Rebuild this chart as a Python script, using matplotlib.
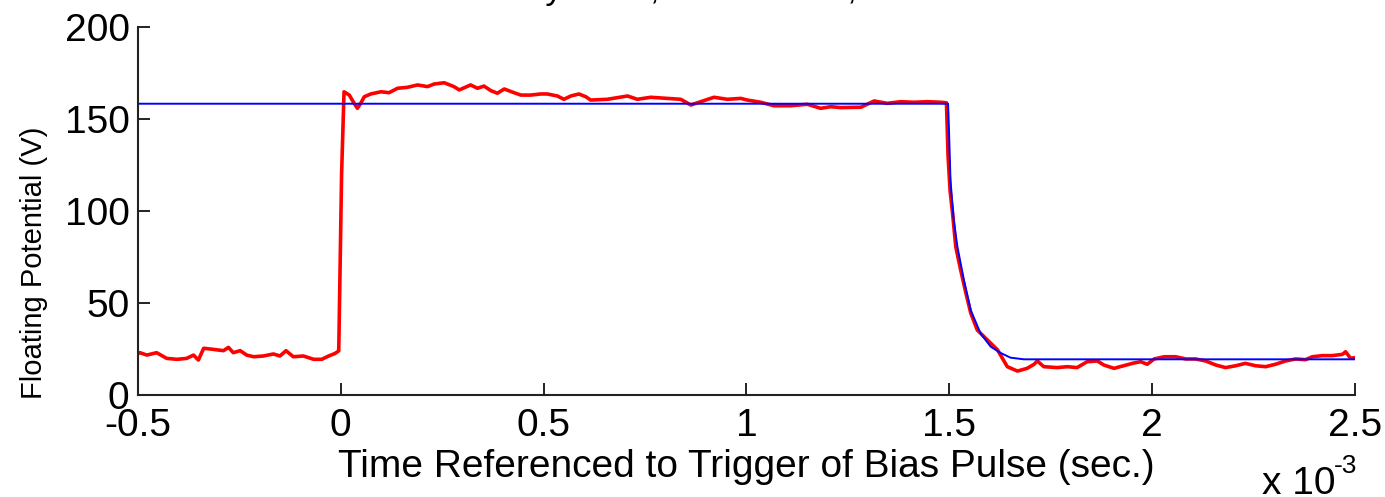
import numpy as np
import matplotlib
matplotlib.use("Agg")
from matplotlib import pyplot as plt

plt.rcParams['font.family'] = ['Liberation Sans', 'DejaVu Sans']
plt.rcParams['axes.unicode_minus'] = False

# measured floating potential (time in units of 1e-3 s)
t_red = [-0.500, -0.495, -0.478, -0.454, -0.429, -0.404, -0.380, -0.363, -0.351, -0.338,
         -0.314, -0.289, -0.277, -0.265, -0.248, -0.232, -0.215, -0.191, -0.166, -0.150,
         -0.135, -0.117, -0.092, -0.067, -0.047, -0.030, -0.014, -0.005, 0.002, 0.008,
         0.021, 0.033, 0.041, 0.049, 0.058, 0.074, 0.099, 0.119, 0.140, 0.164,
         0.189, 0.214, 0.230, 0.255, 0.279, 0.292, 0.320, 0.337, 0.353, 0.370,
         0.386, 0.403, 0.427, 0.444, 0.468, 0.493, 0.509, 0.534, 0.550, 0.567,
         0.587, 0.604, 0.616, 0.657, 0.707, 0.731, 0.764, 0.805, 0.838, 0.863,
         0.887, 0.920, 0.953, 0.986, 1.002, 1.035, 1.068, 1.109, 1.150, 1.183,
         1.208, 1.232, 1.282, 1.315, 1.347, 1.380, 1.413, 1.446, 1.479, 1.493,
         1.497, 1.502, 1.508, 1.516, 1.528, 1.541, 1.553, 1.569, 1.594, 1.619,
         1.643, 1.668, 1.692, 1.709, 1.717, 1.733, 1.766, 1.791, 1.815, 1.840,
         1.865, 1.881, 1.906, 1.930, 1.955, 1.972, 1.988, 2.005, 2.030, 2.058,
         2.083, 2.107, 2.132, 2.157, 2.181, 2.206, 2.230, 2.255, 2.280, 2.304,
         2.329, 2.354, 2.378, 2.395, 2.420, 2.444, 2.469, 2.477, 2.489, 2.500]
v_red = [22.5, 23.0, 21.7, 23.0, 19.9, 19.4, 19.9, 21.7, 19.0, 25.4,
         24.8, 24.1, 25.9, 23.0, 24.1, 21.7, 20.8, 21.2, 22.3, 21.2,
         24.1, 20.8, 21.2, 19.4, 19.4, 21.2, 22.6, 24.0, 120.0, 164.8,
         163.0, 158.5, 155.8, 158.5, 162.1, 163.6, 164.8, 164.3, 166.7, 167.2,
         168.5, 167.6, 169.0, 169.7, 167.6, 165.8, 168.5, 166.7, 167.9, 165.4,
         164.0, 166.3, 164.3, 163.0, 163.0, 163.6, 163.6, 162.5, 160.7, 162.5,
         163.6, 162.1, 160.3, 160.7, 162.5, 160.7, 161.8, 161.2, 160.7, 157.6,
         159.4, 161.8, 160.7, 161.2, 160.3, 159.1, 157.2, 157.2, 158.0, 155.8,
         156.7, 156.2, 156.4, 159.8, 158.5, 159.4, 159.1, 159.4, 159.1, 158.8,
         130.0, 111.0, 99.0, 80.6, 68.0, 55.4, 44.5, 35.3, 29.9, 24.5,
         15.4, 13.0, 14.5, 16.7, 18.5, 15.4, 14.9, 15.4, 14.9, 18.1,
         18.5, 16.3, 14.5, 15.9, 17.4, 18.1, 16.7, 19.6, 20.8, 20.8,
         19.6, 19.6, 18.5, 16.3, 14.9, 15.9, 17.2, 15.9, 15.4, 16.7,
         18.5, 19.6, 19.2, 20.8, 21.4, 21.4, 22.1, 23.5, 20.0, 20.3]

# fitted curve
t_fit = [-0.500, 1.497, 1.499, 1.503, 1.511, 1.520, 1.536, 1.553, 1.577, 1.602,
         1.627, 1.651, 1.684, 2.500]
v_fit = [158.3, 158.3, 146.0, 116.5, 95.0, 80.6, 62.5, 46.0, 33.5, 26.3,
         22.8, 20.3, 19.4, 19.4]

xticks = [-0.5, 0, 0.5, 1, 1.5, 2, 2.5]
xticklabels = ['-0.5', '0', '0.5', '1', '1.5', '2', '2.5']
yticks = [0, 50, 100, 150, 200]

fig = plt.figure(figsize=(13.85, 4.97), dpi=100)
ax = fig.add_axes([0.0996, 0.2052, 0.8787, 0.7405])

ax.plot(t_red, v_red, color='r', lw=2.6)
ax.plot(t_fit, v_fit, color='b', lw=1.4)

ax.set_xlim(-0.5, 2.5)
ax.set_ylim(0, 200)
ax.set_xticks(xticks)
ax.set_xticklabels(xticklabels)
ax.set_yticks(yticks)

for s in ['top', 'right']:
    ax.spines[s].set_visible(False)
for s in ['left', 'bottom']:
    ax.spines[s].set_linewidth(1.5)
    ax.spines[s].set_color('#222222')
ax.tick_params(direction='in', length=8.5, width=1.4, color='#222222',
               labelsize=28, pad=6)
ax.tick_params(axis='x', pad=9)

ax.set_xlabel('Time Referenced to Trigger of Bias Pulse (sec.)', fontsize=28, labelpad=4)
ax.set_ylabel('Floating Potential (V)', fontsize=21)
ax.yaxis.set_label_coords(-0.074, 0.36)

fig.text(1262 / 1385, 3 / 497, 'x 10', fontsize=28, va='baseline', ha='left')
fig.text(1334 / 1385, 24 / 497, '-3', fontsize=19, va='baseline', ha='left')
# title sits above the visible area, only descenders show
fig.text(369 / 1385, 1.002, 'Time History 1205, Shot 10158, Electrode 3', fontsize=25,
         va='baseline', ha='left')

fig.savefig('out.png', dpi=100)
